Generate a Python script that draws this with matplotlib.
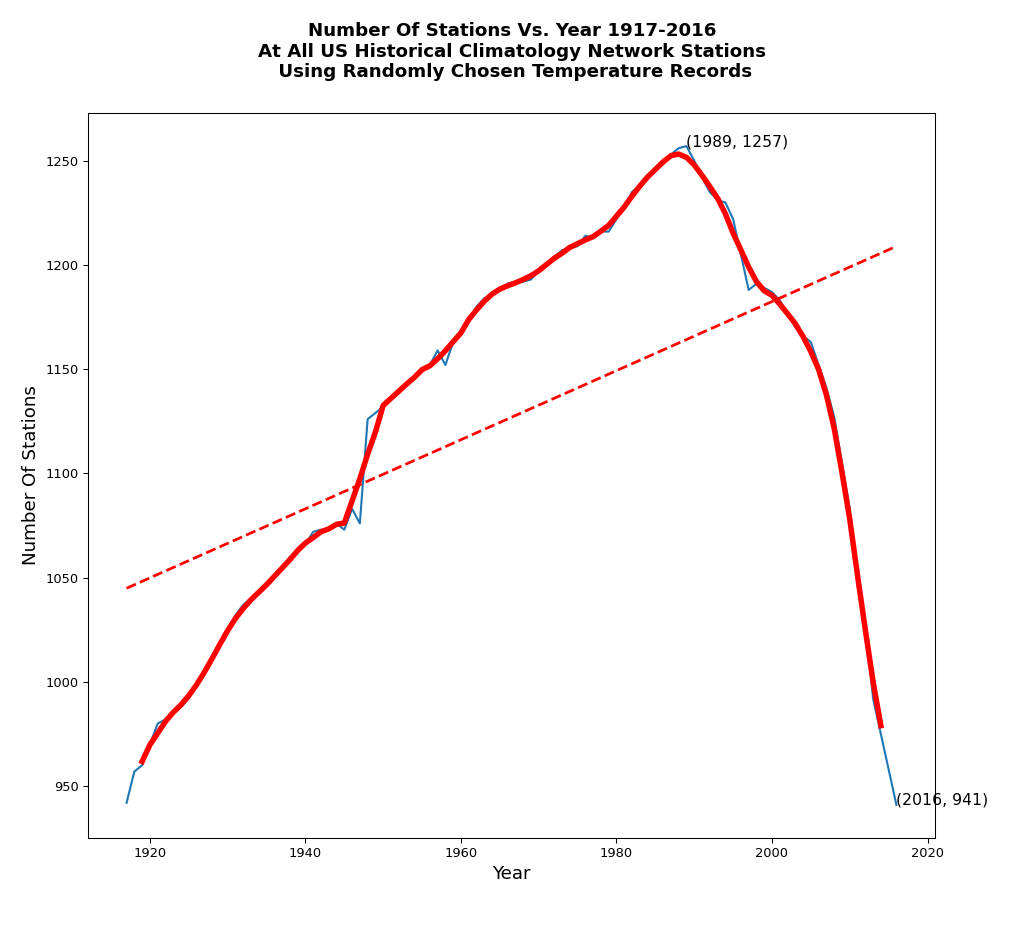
import numpy as np
import pandas as pd
import matplotlib
matplotlib.use("Agg")
import matplotlib.pyplot as plt

years = list(range(1917, 2017))
stations = [
    942, 957, 960, 970, 980, 982, 985, 988, 992, 998,      # 1917-1926
    1004, 1011, 1018, 1025, 1032, 1037, 1040, 1042, 1046, 1050,  # 1927-1936
    1055, 1060, 1062, 1066, 1072, 1073, 1073, 1076, 1073, 1083,  # 1937-1946
    1076, 1126, 1129, 1132, 1136, 1140, 1143, 1146, 1149, 1152,  # 1947-1956
    1159, 1152, 1163, 1168, 1174, 1180, 1184, 1186, 1189, 1191,  # 1957-1966
    1192, 1192, 1193, 1197, 1200, 1204, 1207, 1208, 1209, 1214,  # 1967-1976
    1213, 1216, 1216, 1222, 1228, 1235, 1238, 1242, 1246, 1250,  # 1977-1986
    1253, 1256, 1257, 1250, 1242, 1235, 1231, 1230, 1222, 1205,  # 1987-1996
    1188, 1191, 1189, 1187, 1183, 1177, 1170, 1166, 1163, 1152,  # 1997-2006
    1141, 1127, 1105, 1083, 1046, 1029, 992, 975, 958, 941,      # 2007-2016
]
peak_label = "(1989, 1257)"
end_label = "(2016, 941)"
title_text = ("Number Of Stations Vs. Year 1917-2016\n"
              "At All US Historical Climatology Network Stations\n"
              " Using Randomly Chosen Temperature Records")

x = np.array(years)
y = np.array(stations, dtype=float)
smooth = pd.Series(y, index=x).rolling(5, center=True).mean()
coef = np.polyfit(x, y, 1)
trend = np.polyval(coef, x)

DPI = 94
fig = plt.figure(figsize=(1024 / DPI, 951 / DPI), dpi=DPI)
ax = fig.add_axes([0.086, 0.119, 0.827, 0.762])
ax.plot(x, y, color="#1f77b4", lw=1.6)
ax.plot(smooth.index, smooth.values, color="red", lw=4.2)
ax.plot(x, trend, color="red", lw=2.1, ls="--")

ipk = int(np.argmax(y))
ax.annotate(peak_label, xy=(x[ipk], y[ipk]), fontsize=12)
ax.annotate(end_label, xy=(x[-1], y[-1]), fontsize=12)

ax.set_xlabel("Year", fontsize=14)
ax.set_ylabel("Number Of Stations", fontsize=14)
fig.suptitle(title_text, fontsize=14, fontweight="bold", y=0.977)
fig.savefig("out.png", dpi=DPI)
